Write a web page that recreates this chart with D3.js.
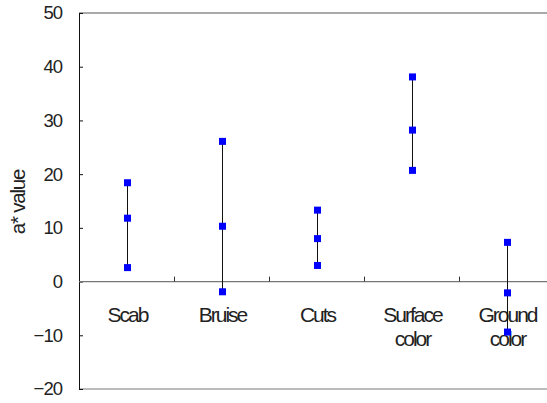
<!DOCTYPE html>
<html><head><meta charset="utf-8">
<script src="https://cdn.jsdelivr.net/npm/d3@7"></script>
<style>body{margin:0;background:#fff}svg{display:block}text{font-family:"Liberation Sans",Arial,sans-serif;fill:#222}</style>
</head><body>
<script>
const categories = [["Scab"], ["Bruise"], ["Cuts"], ["Surface", "color"], ["Ground", "color"]];
const highValues = [18.4, 26.1, 13.3, 38.1, 7.3];
const midValues = [11.8, 10.3, 8.0, 28.2, -2.1];
const lowValues = [2.6, -1.9, 3.0, 20.7, -9.4];
const yTicks = [-20, -10, 0, 10, 20, 30, 40, 50];

const W = 547, H = 403;
const m = {left: 79, top: 13, bottom: 389, right: 554};
const svg = d3.select("body").append("svg").attr("width", W).attr("height", H);

const keys = categories.map(c => c.join(" "));
const x = d3.scaleBand().domain(keys).range([m.left, m.right]);
const y = d3.scaleLinear().domain([-20, 50]).range([m.bottom, m.top]);

// frame lines
svg.append("line").attr("x1", m.left).attr("x2", W).attr("y1", y(50)).attr("y2", y(50)).attr("stroke", "#555");
svg.append("line").attr("x1", m.left).attr("x2", W).attr("y1", y(-20)).attr("y2", y(-20)).attr("stroke", "#777");

// y axis
const yAxis = d3.axisRight(y).tickValues(yTicks).tickSize(4).tickFormat(d => d < 0 ? "\u2212" + Math.abs(d) : d);
const gy = svg.append("g").attr("transform", `translate(${m.left},0)`).call(yAxis);
gy.select(".domain").attr("stroke", "#111");
gy.selectAll(".tick line").attr("stroke", "#111");
gy.selectAll(".tick text").attr("x", -17).attr("text-anchor", "end").attr("font-size", 18.5).attr("letter-spacing", -1).attr("fill", "#222");

// zero line with category boundary ticks
svg.append("line").attr("x1", m.left).attr("x2", W).attr("y1", y(0)).attr("y2", y(0)).attr("stroke", "#777").attr("stroke-width", 1.2);
const bounds = keys.slice(1).map(k => x(k));
svg.selectAll(".bt").data(bounds).enter().append("line")
  .attr("x1", d => Math.round(d) + 0.5).attr("x2", d => Math.round(d) + 0.5)
  .attr("y1", y(0)).attr("y2", y(0) - 5).attr("stroke", "#333");

// category labels
categories.forEach((c, i) => {
  const cx = x(keys[i]) + x.bandwidth() / 2 + 1;
  const t = svg.append("text").attr("x", cx).attr("y", 322)
    .attr("text-anchor", "middle").attr("font-size", 21).attr("letter-spacing", -2);
  c.forEach((s, j) => t.append("tspan").attr("x", cx).attr("dy", j ? 24 : 0).text(s));
});

// y label
svg.append("text").attr("transform", `translate(25,${(m.top + m.bottom) / 2 + 1}) rotate(-90)`)
  .attr("text-anchor", "middle").attr("font-size", 20.5).attr("letter-spacing", -1.2).text("a* value");

// range lines & markers
keys.forEach((k, i) => {
  const cx = Math.round(x(k) + x.bandwidth() / 2) + 0.5;
  svg.append("line").attr("x1", cx).attr("x2", cx).attr("y1", y(highValues[i])).attr("y2", y(lowValues[i])).attr("stroke", "#111");
  [highValues[i], midValues[i], lowValues[i]].forEach(v => {
    svg.append("rect").attr("x", cx - 3.5).attr("y", y(v) - 3.5).attr("width", 7).attr("height", 7).attr("fill", "#0000ff");
  });
});
</script>
</body></html>
